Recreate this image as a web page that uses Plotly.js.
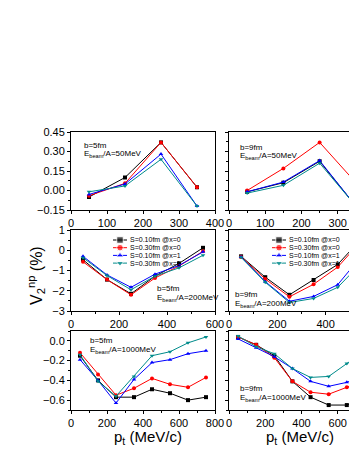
<!DOCTYPE html>
<html>
<head>
<meta charset="utf-8">
<script src="https://cdn.plot.ly/plotly-3.0.1.min.js"></script>
<style>
  body { margin: 0; overflow: hidden; background: white; }
  #plot { width: 400px; height: 451px; }
</style>
</head>
<body>
<div id="plot"></div>
<script>
// transverse momentum bins (MeV/c)
const pt50 = [50, 150, 250, 350];
const pt200 = [50, 150, 250, 350, 450, 550];
const pt1000 = [50, 150, 250, 350, 450, 550, 650, 750];

// series names
const seriesNames = ["S=0.10fm @x=0", "S=0.30fm @x=0", "S=0.10fm @x=1", "S=0.30fm @x=1"];

// b=5fm, E=50MeV
const b5e50_s10x0 = [-0.05, 0.10, 0.37, 0.025];
const b5e50_s30x0 = [-0.04, 0.055, 0.37, 0.025];
const b5e50_s10x1 = [-0.03, 0.05, 0.28, -0.12];
const b5e50_s30x1 = [-0.01, 0.035, 0.24, -0.12];

// b=9fm, E=50MeV
const b9e50_s10x0 = [-0.01, 0.06, 0.225, -0.12];
const b9e50_s30x0 = [0.0, 0.17, 0.37, 0.06];
const b9e50_s10x1 = [-0.01, 0.065, 0.23, -0.12];
const b9e50_s30x1 = [-0.02, 0.04, 0.21, -0.12];

// b=5fm, E=200MeV
const b5e200_s10x0 = [-0.47, -1.45, -2.15, -1.28, -0.65, 0.12];
const b5e200_s30x0 = [-0.57, -1.45, -2.2, -1.37, -0.78, -0.05];
const b5e200_s10x1 = [-0.3, -1.22, -1.83, -1.18, -0.75, -0.08];
const b5e200_s30x1 = [-0.37, -1.25, -1.95, -1.28, -0.87, -0.25];

// b=9fm, E=200MeV
const b9e200_s10x0 = [-0.3, -1.33, -2.2, -1.47, -0.7, 0.6];
const b9e200_s30x0 = [-0.33, -1.42, -2.3, -1.68, -0.83, 0.5];
const b9e200_s10x1 = [-0.33, -1.55, -2.52, -2.28, -1.7, -0.25];
const b9e200_s30x1 = [-0.35, -1.58, -2.58, -2.38, -1.83, -0.6];

// b=5fm, E=1000MeV
const b5e1000_s10x0 = [-0.15, -0.40, -0.57, -0.57, -0.49, -0.53, -0.60, -0.57];
const b5e1000_s30x0 = [-0.12, -0.34, -0.55, -0.48, -0.38, -0.44, -0.47, -0.37];
const b5e1000_s10x1 = [-0.19, -0.40, -0.63, -0.39, -0.22, -0.19, -0.13, -0.10];
const b5e1000_s30x1 = [-0.14, -0.41, -0.56, -0.36, -0.15, -0.11, -0.02, 0.04];

// b=9fm, E=1000MeV
const b9e1000_s10x0 = [0.04, -0.04, -0.15, -0.41, -0.57, -0.65, -0.65, -0.58];
const b9e1000_s30x0 = [0.04, -0.04, -0.17, -0.41, -0.52, -0.54, -0.47, -0.40];
const b9e1000_s10x1 = [0.02, -0.07, -0.16, -0.28, -0.41, -0.46, -0.42, -0.35];
const b9e1000_s30x1 = [0.05, -0.06, -0.13, -0.28, -0.37, -0.36, -0.23, -0.10];

const W = 400, H = 451;
const colors = ["#000000", "#ff0000", "#0000ff", "#008b8b"];
const symbols = ["square", "circle", "triangle-up", "triangle-down"];

// pixel helpers
const px = (x) => x / W;
const py = (y) => 1 - y / H;

const panels = [
  { x: pt50, ys: [b5e50_s10x0, b5e50_s30x0, b5e50_s10x1, b5e50_s30x1] },
  { x: pt50, ys: [b9e50_s10x0, b9e50_s30x0, b9e50_s10x1, b9e50_s30x1] },
  { x: pt200, ys: [b5e200_s10x0, b5e200_s30x0, b5e200_s10x1, b5e200_s30x1] },
  { x: pt200, ys: [b9e200_s10x0, b9e200_s30x0, b9e200_s10x1, b9e200_s30x1] },
  { x: pt1000, ys: [b5e1000_s10x0, b5e1000_s30x0, b5e1000_s10x1, b5e1000_s30x1] },
  { x: pt1000, ys: [b9e1000_s10x0, b9e1000_s30x0, b9e1000_s10x1, b9e1000_s30x1] },
];

const data = [];
panels.forEach((p, i) => {
  const sfx = i === 0 ? "" : String(i + 1);
  p.ys.forEach((y, k) => {
    data.push({
      x: p.x, y: y, type: "scatter", mode: "lines+markers",
      xaxis: "x" + sfx, yaxis: "y" + sfx,
      line: { color: colors[k], width: 1 },
      marker: { color: colors[k], symbol: symbols[k], size: 4 },
      showlegend: false, hoverinfo: "skip", cliponaxis: true,
    });
  });
});

// hand-made legends (pixel overlay axes)
const legendSpots = [{ x: 120, y: 240 }, { x: 279, y: 240 }];
const legendGap = 7.7;
legendSpots.forEach((s) => {
  seriesNames.forEach((name, k) => {
    const yy = s.y + k * legendGap;
    data.push({
      x: [s.x - 7, s.x, s.x + 7], y: [yy, yy, yy],
      type: "scatter", mode: "lines+markers", xaxis: "x7", yaxis: "y7",
      line: { color: colors[k], width: 1 },
      marker: { color: colors[k], symbol: symbols[k], size: [0, 6.5, 0] },
      showlegend: false, hoverinfo: "skip",
    });
  });
});

const cols = [[px(71), px(215)], [px(229), px(374)]];
const rows = [[py(210), py(132)], [py(311), py(230)], [py(410), py(331)]];
const xRanges = [[0, 400], [0, 600], [0, 800]];
const xDticks = [100, 200, 200];
const yRanges = [[-0.15, 0.45], [-3, 1], [-0.7, 0.1]];
const yDticks = [0.15, 1, 0.2];
const yFormats = [".2f", "d", ".1f"];

const tickFont = { family: "Arial, Liberation Sans, sans-serif", size: 11, color: "black" };

const layout = {
  width: W, height: H,
  margin: { l: 0, r: 0, t: 0, b: 0 },
  paper_bgcolor: "white",
  plot_bgcolor: "rgba(0,0,0,0)",
  showlegend: false,
  annotations: [],
};

for (let r = 0; r < 3; r++) {
  for (let c = 0; c < 2; c++) {
    const i = r * 2 + c;
    const sfx = i === 0 ? "" : String(i + 1);
    layout["xaxis" + sfx] = {
      domain: cols[c], range: xRanges[r], anchor: "y" + sfx,
      tick0: 0, dtick: xDticks[r],
      showline: true, linecolor: "black", linewidth: 1, mirror: true,
      ticks: "outside", ticklen: 3, tickcolor: "black", tickfont: tickFont,
      minor: { ticks: "outside", ticklen: 2, dtick: xDticks[r] / 2, tickcolor: "black" },
      showgrid: false, zeroline: false,
    };
    layout["yaxis" + sfx] = {
      domain: rows[r], range: yRanges[r], anchor: "x" + sfx,
      tick0: 0, dtick: yDticks[r], tickformat: yFormats[r],
      showticklabels: c === 0,
      showline: true, linecolor: "black", linewidth: 1, mirror: true,
      ticks: "outside", ticklen: 3, tickcolor: "black", tickfont: tickFont,
      minor: { ticks: "outside", ticklen: 2, dtick: yDticks[r] / 2, tickcolor: "black" },
      showgrid: false, zeroline: false,
    };
  }
}
layout.xaxis7 = { domain: [0, 1], range: [0, W], visible: false, anchor: "y7", fixedrange: true };
layout.yaxis7 = { domain: [0, 1], range: [H, 0], visible: false, anchor: "x7", fixedrange: true };

// panel labels
const panelText = [
  { x: 82, y: 145, b: "b=5fm", e: "50MeV" },
  { x: 238, y: 147, b: "b=9fm", e: "50MeV" },
  { x: 155, y: 288, b: "b=5fm", e: "200MeV" },
  { x: 233, y: 294, b: "b=9fm", e: "200MeV" },
  { x: 88, y: 340, b: "b=5fm", e: "1000MeV" },
  { x: 238, y: 388, b: "b=9fm", e: "1000MeV" },
];
const smallFont = { family: "Arial, Liberation Sans, sans-serif", size: 8, color: "black" };
panelText.forEach((t) => {
  layout.annotations.push({
    xref: "paper", yref: "paper", x: px(t.x), y: py(t.y), xanchor: "left", yanchor: "middle",
    text: t.b, showarrow: false, font: smallFont,
  });
  layout.annotations.push({
    xref: "paper", yref: "paper", x: px(t.x), y: py(t.y + 9.5), xanchor: "left", yanchor: "middle",
    text: "E<sub>beam</sub>/A=" + t.e, showarrow: false, font: smallFont,
  });
});

// legend texts
const legFont = { family: "Arial, Liberation Sans, sans-serif", size: 7, color: "black" };
legendSpots.forEach((s) => {
  seriesNames.forEach((name, k) => {
    layout.annotations.push({
      xref: "paper", yref: "paper", x: px(s.x + 8), y: py(s.y + k * legendGap),
      xanchor: "left", yanchor: "middle", text: name, showarrow: false, font: legFont,
    });
  });
});

// axis titles
const titleFont = { family: "Arial, Liberation Sans, sans-serif", size: 16, color: "black" };
layout.annotations.push({
  xref: "paper", yref: "paper", x: px(36), y: py(276), xanchor: "center", yanchor: "middle",
  text: "V<sub>2</sub><sup>np</sup> (%)", textangle: -90, showarrow: false, font: titleFont,
});
[148, 300].forEach((cx) => {
  layout.annotations.push({
    xref: "paper", yref: "paper", x: px(cx), y: py(437),
    xanchor: "center", yanchor: "middle",
    text: "p<sub>t</sub> (MeV/c)", showarrow: false, font: { ...titleFont, size: 15 },
  });
});

Plotly.newPlot("plot", data, layout, { staticPlot: true, displayModeBar: false });
</script>
</body>
</html>
